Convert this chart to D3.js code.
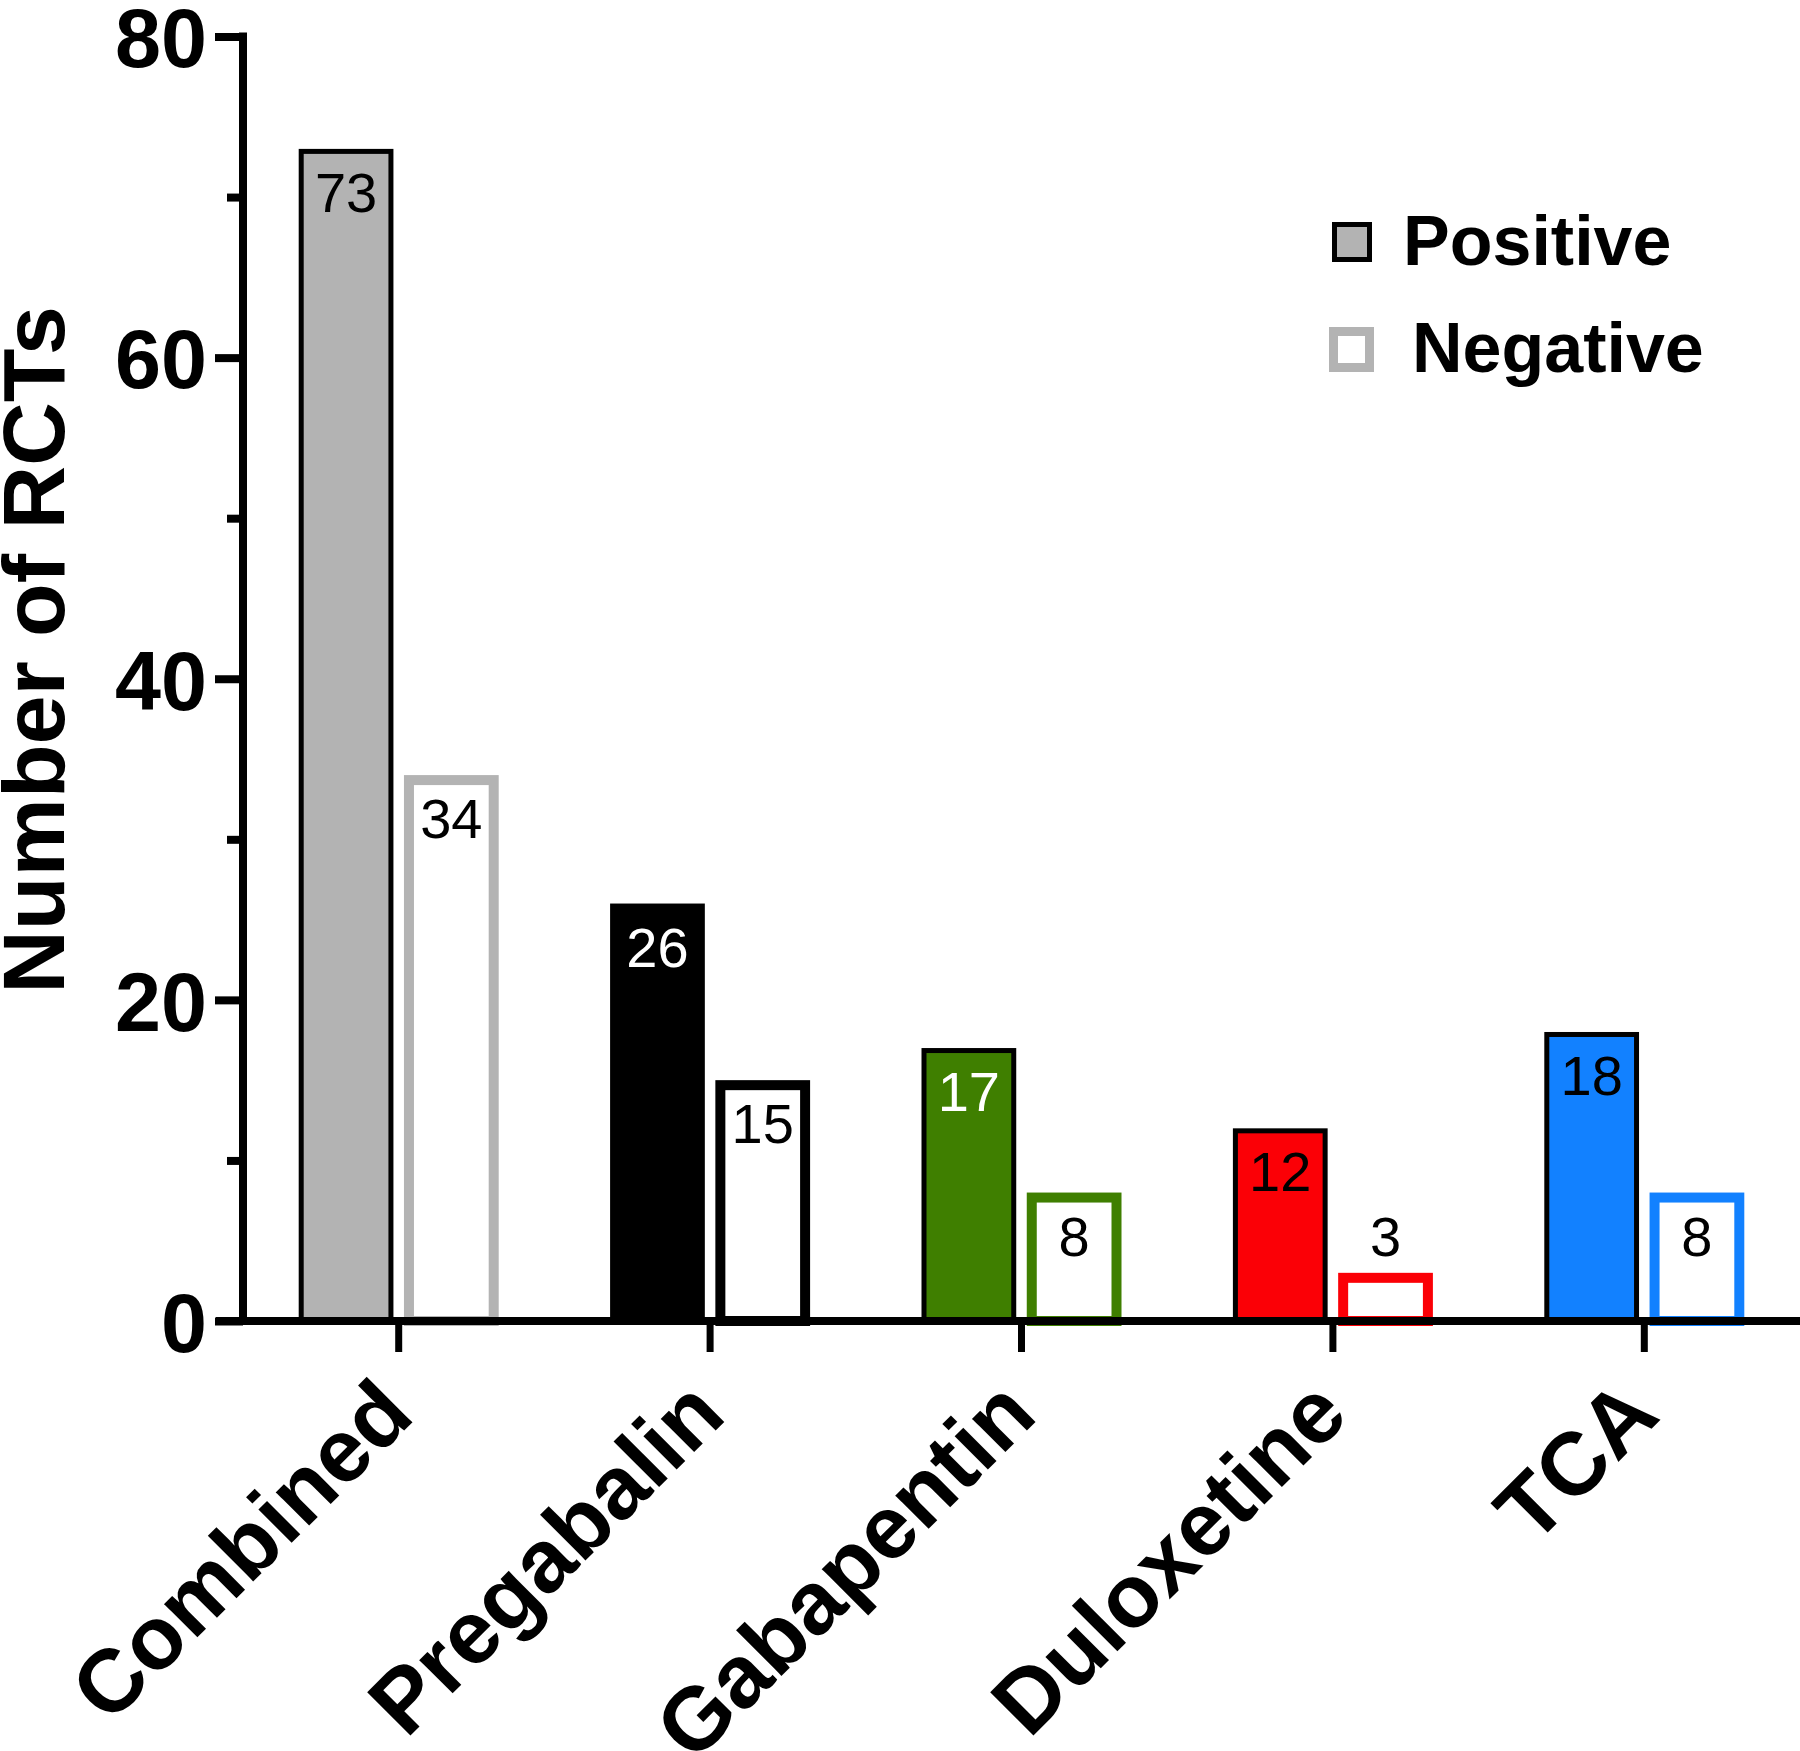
<!DOCTYPE html>
<html>
<head>
<meta charset="utf-8">
<script src="https://cdn.jsdelivr.net/npm/d3@7"></script>
<style>
  html, body { margin: 0; padding: 0; background: #fff; }
  svg { display: block; }
</style>
</head>
<body>
<script>
// ---- data ----
const categories = ["Combined", "Pregabalin", "Gabapentin", "Duloxetine", "TCA"];
const series = ["Positive", "Negative"];
const positive = [73, 26, 17, 12, 18];
const negative = [34, 15, 8, 3, 8];
const yMajorTicks = [0, 20, 40, 60, 80];
const yMinorTicks = [10, 30, 50, 70];
const legendLabels = ["Positive", "Negative"];
const yTitle = "Number of RCTs";

// ---- style config ----
const catColors = ["#b3b3b3", "#000000", "#3f7f00", "#fb0006", "#1281ff"];
const posLabelColors = ["#000", "#fff", "#fff", "#000", "#000"];

const W = 1800, H = 1751;
const svg = d3.select("body").append("svg").attr("width", W).attr("height", H);

const axisX = 243, baseY = 1321;
const y = d3.scaleLinear().domain([0, 80]).range([baseY, 36.5]);
const x = d3.scaleBand().domain(categories).range([axisX, 1800]).padding(0);
const sub = d3.scaleBand().domain(series).range([-100, 100]).paddingInner(0.1).paddingOuter(0);

const rows = categories.map((c, i) => ({ cat: c, i, pos: positive[i], neg: negative[i] }));

const posSW = 5, negSW = 10;
const gBars = svg.append("g");

// positive bars
gBars.selectAll("rect.pos").data(rows).join("rect")
  .attr("class", "pos")
  .attr("x", d => x(d.cat) + x.bandwidth() / 2 + sub("Positive") + posSW / 2)
  .attr("y", d => y(d.pos) + posSW / 2)
  .attr("width", sub.bandwidth() - posSW)
  .attr("height", d => baseY - y(d.pos) - posSW / 2)
  .attr("fill", d => catColors[d.i])
  .attr("stroke", "#000")
  .attr("stroke-width", posSW);

// negative bars
gBars.selectAll("rect.neg").data(rows).join("rect")
  .attr("class", "neg")
  .attr("x", d => x(d.cat) + x.bandwidth() / 2 + sub("Negative") + negSW / 2)
  .attr("y", d => y(d.neg) + negSW / 2)
  .attr("width", sub.bandwidth() - negSW)
  .attr("height", d => baseY - y(d.neg) - negSW / 2)
  .attr("fill", "#fff")
  .attr("stroke", d => catColors[d.i])
  .attr("stroke-width", negSW);

// value labels
const labelFont = "'Liberation Sans', Arial, sans-serif";
function labelY(v) {
  const h = baseY - y(v);
  return h > 80 ? y(v) + 63 : y(v) - 17;
}
gBars.selectAll("text.posl").data(rows).join("text")
  .attr("x", d => x(d.cat) + x.bandwidth() / 2 + sub("Positive") + sub.bandwidth() / 2)
  .attr("y", d => labelY(d.pos))
  .attr("text-anchor", "middle")
  .attr("font-family", labelFont)
  .attr("font-size", 56)
  .attr("fill", d => posLabelColors[d.i])
  .text(d => d.pos);
gBars.selectAll("text.negl").data(rows).join("text")
  .attr("x", d => x(d.cat) + x.bandwidth() / 2 + sub("Negative") + sub.bandwidth() / 2)
  .attr("y", d => labelY(d.neg))
  .attr("text-anchor", "middle")
  .attr("font-family", labelFont)
  .attr("font-size", 56)
  .attr("fill", "#000")
  .text(d => d.neg);

// ---- y axis ----
const yAxis = d3.axisLeft(y)
  .tickValues(yMajorTicks.concat(yMinorTicks))
  .tickSize(28)
  .tickSizeOuter(0)
  .tickPadding(8)
  .tickFormat(d => yMajorTicks.includes(d) ? d : "");
const gy = svg.append("g").attr("transform", `translate(${axisX},0)`).call(yAxis);
gy.select(".domain").remove();
gy.selectAll(".tick line")
  .attr("stroke", "#000").attr("stroke-width", 8)
  .attr("x2", d => yMajorTicks.includes(d) ? -28 : -16);
gy.selectAll(".tick text")
  .attr("font-family", labelFont)
  .attr("font-weight", "bold")
  .attr("font-size", 84)
  .attr("fill", "#000")
  .attr("dy", "0.36em")
  .attr("textLength", d => yMajorTicks.includes(d) ? String(d).length * 46 : null)
  .attr("lengthAdjust", "spacingAndGlyphs");
gy.append("line")
  .attr("x1", 0).attr("x2", 0)
  .attr("y1", y(80)).attr("y2", baseY)
  .attr("stroke", "#000").attr("stroke-width", 8)
  .attr("stroke-linecap", "square");

// ---- x axis ----
const xAxis = d3.axisBottom(x).tickSize(31).tickSizeOuter(0).tickFormat("");
const gx = svg.append("g").attr("transform", `translate(0,${baseY})`).call(xAxis);
gx.select(".domain").remove();
gx.selectAll(".tick line").attr("stroke", "#000").attr("stroke-width", 7);
gx.append("line")
  .attr("x1", 216).attr("x2", 1800)
  .attr("y1", 0).attr("y2", 0)
  .attr("stroke", "#000").attr("stroke-width", 8);

// category labels
svg.append("g").selectAll("text").data(categories).join("text")
  .attr("transform", d => `translate(${x(d) + x.bandwidth() / 2 + 18},${1418}) rotate(-45)`)
  .attr("text-anchor", "end")
  .attr("font-family", labelFont)
  .attr("font-weight", "bold")
  .attr("font-size", 89)
  .attr("fill", "#000")
  .text(d => d);

// y title
svg.append("text")
  .attr("transform", `translate(64,650) rotate(-90)`)
  .attr("text-anchor", "middle")
  .attr("font-family", labelFont)
  .attr("font-weight", "bold")
  .attr("font-size", 88)
  .attr("fill", "#000")
  .text(yTitle);

// ---- legend ----
const legend = svg.append("g");
const legendItems = [
  { label: legendLabels[0], cx: 1352, cy: 242, fill: catColors[0], stroke: "#000", sw: 5, tx: 1403, ty: 265 },
  { label: legendLabels[1], cx: 1351.5, cy: 349.5, fill: "#fff", stroke: catColors[0], sw: 9, tx: 1412, ty: 372 }
];
legendItems.forEach(it => {
  const s = it.sw === 5 ? 40 : 45;
  legend.append("rect")
    .attr("x", it.cx - s / 2 + it.sw / 2).attr("y", it.cy - s / 2 + it.sw / 2)
    .attr("width", s - it.sw).attr("height", s - it.sw)
    .attr("fill", it.fill).attr("stroke", it.stroke).attr("stroke-width", it.sw);
  legend.append("text")
    .attr("x", it.tx).attr("y", it.ty)
    .attr("font-family", labelFont)
    .attr("font-weight", "bold")
    .attr("font-size", 70)
    .attr("fill", "#000")
    .text(it.label);
});
</script>
</body>
</html>
